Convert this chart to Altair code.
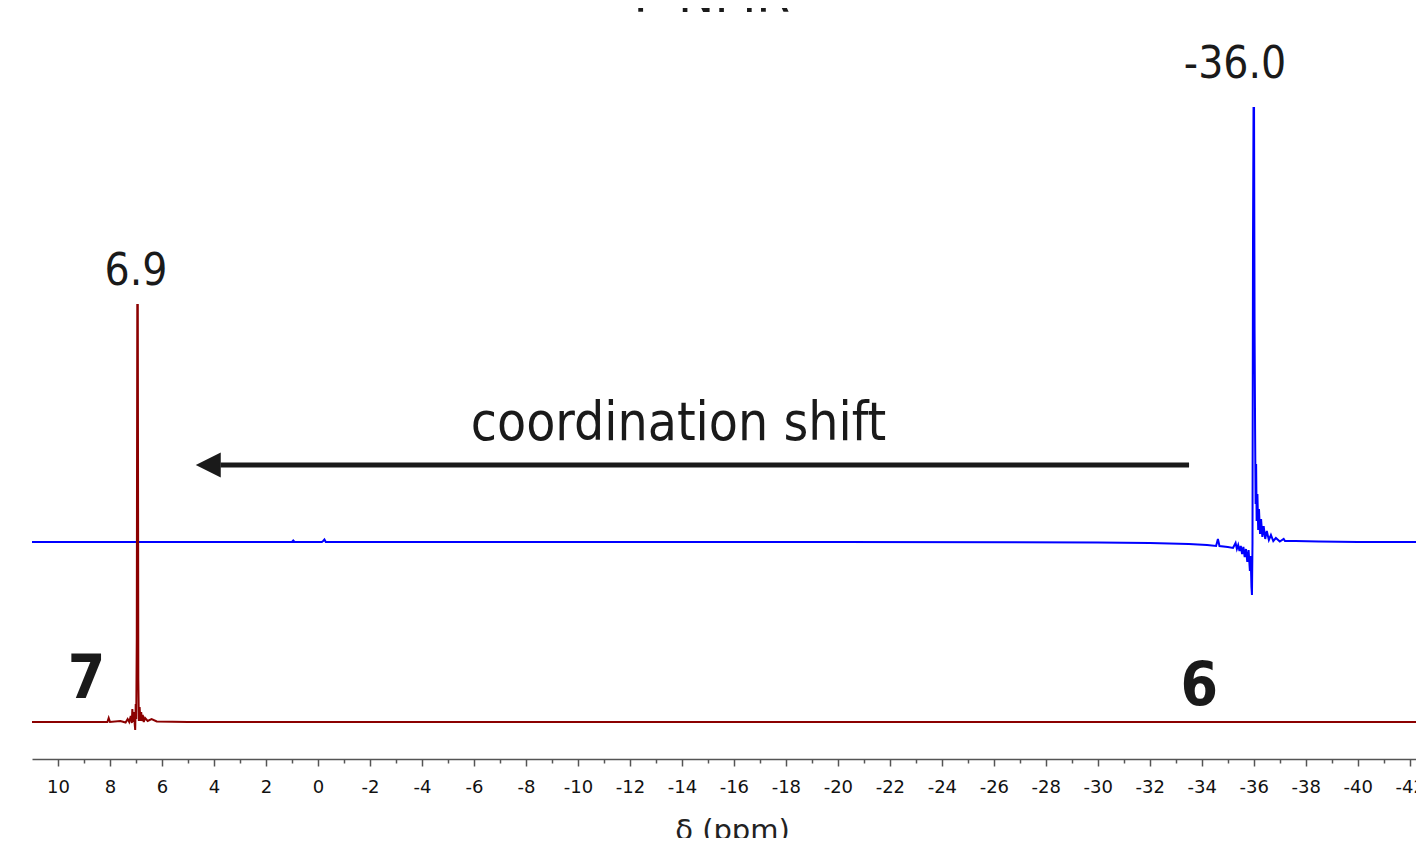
import altair as alt
import pandas as pd

# ---- spectrum of compound 6 (blue) ----
blue_ppm = [11.0, 1.0, 0.95, 0.9, -0.1, -0.15, -0.2, -0.25, -0.3, -10.0,
            -20.0, -30.0, -32.0, -33.5, -34.2, -34.55, -34.62, -34.68, -35.0, -35.2,
            -35.30, -35.35, -35.40, -35.45, -35.50, -35.55, -35.60, -35.65, -35.70, -35.75,
            -35.80, -35.85, -35.88, -35.91, -35.93, -35.95, -35.97, -35.99, -36.01, -36.03,
            -36.05, -36.07, -36.09, -36.11, -36.14, -36.17, -36.20, -36.24, -36.28, -36.33,
            -36.38, -36.44, -36.50, -36.58, -36.66, -36.75, -36.85, -37.0, -37.15, -37.2,
            -37.6, -38.5, -40.0, -42.24]
blue_int = [217, 217, 218.5, 217, 217, 217, 218, 219.5, 217, 217,
            217, 216.5, 216, 215, 214, 213, 220, 213, 212, 211,
            216, 210, 214, 208, 213, 205, 212, 202, 210, 197,
            209, 188, 203, 172, 164, 215, 520, 651, 651, 430,
            330, 255, 295, 238, 265, 229, 250, 225, 240, 222,
            233, 220, 228, 219, 224, 218, 221, 217.5, 220, 218,
            218, 217.5, 217, 217]

# ---- spectrum of compound 7 (dark red) ----
red_ppm = [11.0, 9.0, 8.1, 8.05, 8.0, 7.6, 7.4, 7.32, 7.26, 7.2,
           7.16, 7.14, 7.11, 7.08, 7.05, 7.03, 7.01, 6.99, 6.97, 6.95,
           6.93, 6.91, 6.89, 6.86, 6.83, 6.80, 6.77, 6.74, 6.70, 6.65,
           6.55, 6.40, 6.2, 5.0, 0.0, -20.0, -42.24]
red_int = [37, 37, 37, 41, 37, 38, 36.5, 40, 37, 43,
           36, 50, 37, 47, 35, 29, 55, 40, 120, 454,
           454, 80, 38, 52, 38, 47, 38, 44, 37, 41,
           38, 40, 37.5, 37, 37, 37, 37]

# ---- axis ticks ----
tick_values = list(range(10, -43, -1))

# ---- annotations ----
peak_text = ["-36.0", "6.9"]
peak_ppm = [-35.28, 7.0]
peak_int = [681, 474]

compound_text = ["7", "6"]
compound_ppm = [8.9, -33.9]
compound_int = [61, 54]

shift_text = ["coordination shift"]
shift_ppm = [-13.87]
shift_int = [319]

arrow_start = [-33.51]
arrow_end = [3.75]
arrow_int = [294]
head_ppm = [4.22]

title_text = ["³¹P NMR"]
title_ppm = [-14.4]
title_int = [747]

assert len(blue_ppm) == len(blue_int)
assert len(red_ppm) == len(red_int)

spec_df = pd.concat([
    pd.DataFrame({"ppm": blue_ppm, "intensity": blue_int, "trace": "6"}),
    pd.DataFrame({"ppm": red_ppm, "intensity": red_int, "trace": "7"}),
])

x_axis = alt.Axis(
    values=tick_values,
    labelExpr="abs(datum.value) % 2 == 0 ? toString(datum.value) : ''",
    tickSize={"condition": {"test": "abs(datum.value) % 2 == 0", "value": 7}, "value": 4},
    tickColor="#555555", tickWidth=1.5,
    domainColor="#555555", domainWidth=1.5,
    grid=False,
    labelFont="DejaVu Sans", labelFontSize=18, labelColor="#111111",
    labelPadding=12, labelFlush=False, labelOverlap=False,
    titleFont="DejaVu Sans", titleFontSize=29, titleFontWeight="normal",
    titleColor="#222222", titleX=700, titleY=80, titleBaseline="alphabetic",
)

X = alt.X("ppm:Q", scale=alt.Scale(domain=[11.0, -42.24], nice=False, zero=False),
          axis=x_axis, title="δ (ppm)")
Y = alt.Y("intensity:Q", scale=alt.Scale(domain=[0, 751], nice=False, zero=False),
          axis=None)

spectra = alt.Chart(spec_df).mark_line(strokeWidth=2, clip=True).encode(
    x=X, y=Y,
    color=alt.Color("trace:N",
                    scale=alt.Scale(domain=["6", "7"], range=["#0000ff", "#8b0000"]),
                    legend=None),
)

arrow_df = pd.DataFrame({"ppm": arrow_start, "ppm2": arrow_end, "intensity": arrow_int})
shaft = alt.Chart(arrow_df).mark_rule(strokeWidth=5, color="#1a1a1a").encode(
    x=X, x2="ppm2:Q", y=Y)

head_df = pd.DataFrame({"ppm": head_ppm, "intensity": arrow_int})
head = alt.Chart(head_df).mark_point(
    shape="M -1 0 L 1 -1 L 1 1 Z", size=625, filled=True, opacity=1,
    color="#1a1a1a", strokeWidth=0).encode(x=X, y=Y)

NARROW = "DejaVu Sans Condensed, Liberation Sans Narrow, sans-serif"

peaks = alt.Chart(pd.DataFrame({"ppm": peak_ppm, "intensity": peak_int, "t": peak_text})).mark_text(
    font=NARROW, fontSize=44, align="center", baseline="alphabetic", color="#1a1a1a"
).encode(x=X, y=Y, text="t:N")

compounds = alt.Chart(pd.DataFrame({"ppm": compound_ppm, "intensity": compound_int, "t": compound_text})).mark_text(
    font=NARROW, fontSize=60, fontWeight="bold", align="center", baseline="alphabetic", color="#1a1a1a"
).encode(x=X, y=Y, text="t:N")

shift = alt.Chart(pd.DataFrame({"ppm": shift_ppm, "intensity": shift_int, "t": shift_text})).mark_text(
    font=NARROW, fontSize=53, align="center", baseline="alphabetic", color="#1a1a1a"
).encode(x=X, y=Y, text="t:N")

title = alt.Chart(pd.DataFrame({"ppm": title_ppm, "intensity": title_int, "t": title_text})).mark_text(
    font=NARROW, fontSize=54, align="center", baseline="alphabetic", color="#1a1a1a"
).encode(x=X, y=Y, text="t:N")

chart = alt.layer(spectra, shaft, head, peaks, compounds, shift, title).properties(
    width=1384, height=751,
    autosize=alt.AutoSizeParams(type="none"),
    padding={"left": 24, "top": 0, "right": 0, "bottom": 79},
).configure_view(stroke=None)

chart.save("out.html", embed_options={"renderer": "svg", "actions": False})
